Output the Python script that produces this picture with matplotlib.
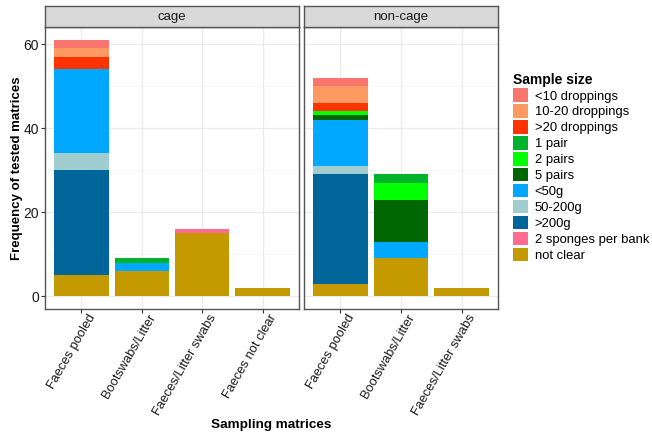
import matplotlib
matplotlib.use("Agg")
from matplotlib import pyplot as plt
from matplotlib.patches import Patch
from matplotlib.transforms import ScaledTranslation
import numpy as np

plt.rcParams['font.family'] = ['Liberation Sans', 'DejaVu Sans']

# legend levels, in legend order (top of stack first)
sizes = ["<10 droppings", "10-20 droppings", ">20 droppings", "1 pair", "2 pairs",
         "5 pairs", "<50g", "50-200g", ">200g", "2 sponges per bank", "not clear"]
size_colors = ["#F8766D", "#FC9A62", "#FF3300", "#00B32D", "#00FF00",
               "#006600", "#00A9FF", "#A0CDD0", "#006699", "#FF6C90", "#C49A00"]

# counts per matrix, in the order of `sizes`
cage_matrices = ["Faeces pooled", "Bootswabs/Litter", "Faeces/Litter swabs", "Faeces not clear"]
cage_faeces_pooled = [2, 2, 3, 0, 0, 0, 20, 4, 25, 0, 5]
cage_bootswabs = [0, 0, 0, 1, 0, 0, 2, 0, 0, 0, 6]
cage_swabs = [0, 0, 0, 0, 0, 0, 0, 0, 0, 1, 15]
cage_not_clear = [0, 0, 0, 0, 0, 0, 0, 0, 0, 0, 2]

noncage_matrices = ["Faeces pooled", "Bootswabs/Litter", "Faeces/Litter swabs"]
noncage_faeces_pooled = [2, 4, 2, 0, 1, 1, 11, 2, 26, 0, 3]
noncage_bootswabs = [0, 0, 0, 2, 4, 10, 4, 0, 0, 0, 9]
noncage_swabs = [0, 0, 0, 0, 0, 0, 0, 0, 0, 0, 2]

panels = [
    ("cage", cage_matrices, [cage_faeces_pooled, cage_bootswabs, cage_swabs, cage_not_clear]),
    ("non-cage", noncage_matrices, [noncage_faeces_pooled, noncage_bootswabs, noncage_swabs]),
]

W, H = 652, 436
fig = plt.figure(figsize=(W / 100, H / 100), dpi=100)

def px_axes(x0, x1, ytop, ybot):
    return fig.add_axes([x0 / W, (H - ybot) / H, (x1 - x0) / W, (ybot - ytop) / H])

boxes = [(45, 299), (304, 498)]
ymax = 61
label_shift = ScaledTranslation(6 / 100, -3 / 100, fig.dpi_scale_trans)
for i, (name, cats, counts) in enumerate(panels):
    ax = px_axes(boxes[i][0], boxes[i][1], 27, 309)
    x = np.arange(len(cats))
    data = np.array(counts).T  # sizes x matrices
    bottom = np.zeros(len(cats))
    for j in reversed(range(len(sizes))):
        ax.bar(x, data[j], bottom=bottom, width=0.9, color=size_colors[j], linewidth=0, zorder=2)
        bottom += data[j]
    ax.set_xlim(-0.6, len(cats) - 0.4)
    ax.set_ylim(-0.05 * ymax, 1.05 * ymax)
    ax.set_xticks(x)
    ax.set_xticklabels([])
    # rotated category labels, placed like ggplot's angle=60 text
    for xi, cat in zip(x, cats):
        ax.text(xi, 0, cat, transform=ax.get_xaxis_transform() + label_shift, rotation=60,
                ha="right", va="top", rotation_mode="anchor", fontsize=9.3, color="#1a1a1a", clip_on=False)
    ax.set_yticks([0, 20, 40, 60])
    ax.set_yticks([10, 30, 50], minor=True)
    ax.grid(True, which="major", color="#EBEBEB", linewidth=0.9, zorder=0)
    ax.grid(True, which="minor", axis="y", color="#F3F3F3", linewidth=0.5, zorder=0)
    ax.set_axisbelow(True)
    ax.tick_params(axis="x", which="major", length=3, width=0.8, color="#333333")
    ax.tick_params(axis="y", which="major", length=3, width=0.8, color="#333333", labelsize=10, labelcolor="#1a1a1a", pad=1.5)
    ax.tick_params(axis="y", which="minor", length=0)
    if i > 0:
        ax.tick_params(axis="y", which="major", length=0, labelleft=False)
    for s in ax.spines.values():
        s.set_color("#555555")
        s.set_linewidth(1.0)
    # facet strip
    strip = px_axes(boxes[i][0], boxes[i][1], 6, 27)
    strip.set_xticks([])
    strip.set_yticks([])
    strip.set_facecolor("#D9D9D9")
    for s in strip.spines.values():
        s.set_color("#555555")
        s.set_linewidth(1.0)
    strip.text(0.5, 0.48, name, ha="center", va="center", fontsize=9.5, color="#1a1a1a", transform=strip.transAxes)

fig.text(271 / W, 1 - 425 / H, "Sampling matrices", ha="center", va="center", fontsize=9.7, fontweight="bold")
fig.text(17 / W, 1 - 168 / H, "Frequency of tested matrices", ha="center", va="center", rotation=90,
         fontsize=9.5, fontweight="bold")

handles = [Patch(facecolor=c, edgecolor="none", label=l) for l, c in zip(sizes, size_colors)]
leg = fig.legend(handles=handles, title="Sample size", loc="upper left", bbox_to_anchor=(510 / W, 1 - 70 / H),
                 frameon=False, fontsize=9.4, handlelength=1.15, handleheight=1.2, handletextpad=0.55,
                 labelspacing=0.14, borderaxespad=0, borderpad=0.2, alignment="left")
leg.get_title().set_fontweight("bold")
leg.get_title().set_fontsize(10)

fig.savefig("out.png", dpi=100)
